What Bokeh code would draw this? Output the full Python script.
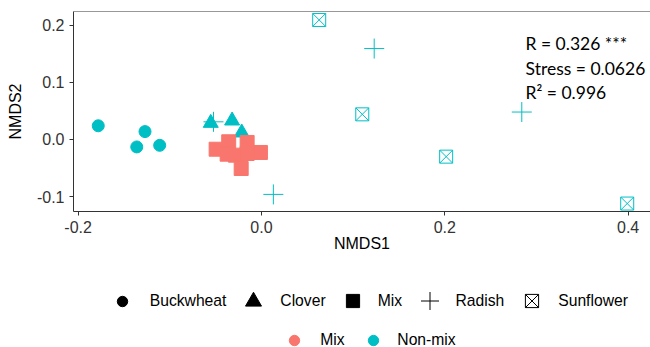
import numpy as np
from bokeh.plotting import figure
from bokeh.layouts import column
from bokeh.models import Range1d, FixedTicker, PrintfTickFormatter, Span, Label, Legend, LegendItem
from bokeh.embed import file_html
from bokeh.resources import INLINE

# ---------------- data ----------------
buck_x = [-0.178, -0.127, -0.136, -0.111]
buck_y = [0.024, 0.0138, -0.013, -0.0102]
clover_x = [-0.0553, -0.032, -0.0215]
clover_y = [0.0288, 0.0329, 0.012]
radish_x = [0.123, 0.284, 0.013, -0.0523]
radish_y = [0.159, 0.048, -0.096, 0.0309]
sunflower_x = [0.063, 0.110, 0.2015, 0.399]
sunflower_y = [0.209, 0.044, -0.030, -0.112]
mix_x = [-0.0494, -0.0357, -0.0156, -0.0011, -0.0284, -0.0156, -0.0221, -0.0374]
mix_y = [-0.017, -0.004, -0.0052, -0.0227, -0.0274, -0.0245, -0.0507, -0.0257]

x_ticks = [-0.2, 0.0, 0.2, 0.4]
y_ticks = [-0.1, 0.0, 0.1, 0.2]
stats_lines = ["R = 0.326 ***", "Stress = 0.0626", "R\u00b2 = 0.996"]
shape_labels = ["Buckwheat", "Clover", "Mix", "Radish", "Sunflower"]
group_labels = ["Mix", "Non-mix"]

TEAL = "#00BFC4"
SALMON = "#F8766D"
DARK = "#333333"

W = 650
H1 = 258
H2 = 347 - H1

# ---------------- main figure ----------------
FRAME_L = 73
FRAME_T = 11
FRAME_B = 211
p = figure(width=W, height=H1, output_backend="svg", toolbar_location=None,
           x_range=Range1d(-0.2050, 0.4244), y_range=Range1d(-0.1259, 0.2238),
           min_border_left=FRAME_L, min_border_right=0, min_border_top=FRAME_T,
           min_border_bottom=H1 - FRAME_B,
           x_axis_label="NMDS1", y_axis_label="NMDS2")
p.outline_line_color = None
p.grid.visible = False
p.background_fill_color = "white"
p.border_fill_color = "white"

for ax in (p.xaxis[0], p.yaxis[0]):
    ax.axis_line_color = DARK
    ax.axis_line_width = 1
    ax.major_tick_line_color = DARK
    ax.major_tick_out = 4
    ax.major_tick_in = 0
    ax.minor_tick_line_color = None
    ax.major_label_text_font = "Liberation Sans"
    ax.major_label_text_font_size = "16px"
    ax.major_label_text_color = DARK
    ax.axis_label_text_font = "Liberation Sans"
    ax.axis_label_text_font_size = "16px"
    ax.axis_label_text_font_style = "normal"
    ax.axis_label_text_color = "black"
    ax.formatter = PrintfTickFormatter(format="%.1f")

p.xaxis[0].ticker = FixedTicker(ticks=x_ticks)
p.yaxis[0].ticker = FixedTicker(ticks=y_ticks)
p.xaxis[0].major_label_standoff = 5
p.xaxis[0].axis_label_standoff = -1
p.yaxis[0].major_label_standoff = 5
p.yaxis[0].axis_label_standoff = 10

p.add_layout(Span(location=p.y_range.end, dimension="width", line_color=DARK, line_width=1))

# ---------------- points ----------------
p.scatter(buck_x, buck_y, marker="circle", size=12, fill_color=TEAL, line_color=TEAL)
p.scatter(clover_x, clover_y, marker="triangle", size=15, fill_color=TEAL, line_color=TEAL)
p.scatter(radish_x, radish_y, marker="cross", size=20, line_color=TEAL, line_width=1)
p.scatter(sunflower_x, sunflower_y, marker="square_x", size=13, fill_color=None,
          line_color=TEAL, line_width=1)
p.scatter(mix_x, mix_y, marker="square", size=14, fill_color=SALMON, line_color=SALMON)

# ---------------- stats text ----------------
stat_y = [0.1673, 0.1236, 0.0827]
for txt, yy in zip(stats_lines, stat_y):
    p.add_layout(Label(x=0.2881, y=yy, text=txt, text_baseline="middle", text_align="left",
                       text_font="Lato", text_font_size="17.5px", text_color="black"))

# ---------------- legend figure ----------------
q = figure(width=W, height=H2, output_backend="svg", toolbar_location=None,
           x_range=Range1d(0, 1), y_range=Range1d(0, 1),
           x_axis_type=None, y_axis_type=None,
           min_border_left=0, min_border_right=0, min_border_top=0, min_border_bottom=0)
q.outline_line_color = None
q.grid.visible = False
q.background_fill_color = "white"
q.border_fill_color = "white"

nan = np.array([np.nan])
k_circle = q.scatter(nan, nan, marker="circle", fill_color="black", line_color="black")
k_tri = q.scatter(nan, nan, marker="triangle", fill_color="black", line_color="black")
k_sq = q.scatter(nan, nan, marker="square", fill_color="black", line_color="black")
k_cross = q.scatter(nan, nan, marker="cross", line_color="black", line_width=1)
k_sqx = q.scatter(nan, nan, marker="square_x", fill_color=None, line_color="black", line_width=1)
k_mix = q.scatter(nan, nan, marker="circle", fill_color=SALMON, line_color=SALMON)
k_non = q.scatter(nan, nan, marker="circle", fill_color=TEAL, line_color=TEAL)

# the column layout aligns this frame with the main frame (left edge at FRAME_L)
def add_key(renderer, label, gx, gy, G, text_x):
    # gx, gy: glyph centre in page pixels; G: glyph box (marker size = 0.4 * G)
    gy_local = gy - H1
    leg = Legend(items=[LegendItem(label=label, renderers=[renderer])],
                 location=(gx - G / 2 - FRAME_L, H2 - (gy_local + G / 2)),
                 orientation="horizontal", glyph_width=G, glyph_height=G,
                 label_standoff=int(round(text_x - (gx + G / 2))),
                 padding=0, margin=0, spacing=0,
                 border_line_alpha=0, background_fill_alpha=0,
                 label_text_font="Liberation Sans", label_text_font_size="15.7px",
                 label_text_color="black", label_text_baseline="middle")
    q.add_layout(leg, "center")


row1 = 300.7
row2 = 340.0
add_key(k_circle, shape_labels[0], 121.7, row1, 26, 149.3)
add_key(k_tri, shape_labels[1], 253.3, row1, 40, 280.0)
add_key(k_sq, shape_labels[2], 352.3, row1, 33, 378.0)
add_key(k_cross, shape_labels[3], 429.0, row1, 45, 455.0)
add_key(k_sqx, shape_labels[4], 531.7, row1, 33, 558.0)
add_key(k_mix, group_labels[0], 294.3, row2, 26, 320.7)
add_key(k_non, group_labels[1], 373.3, row2, 26, 397.6)

layout = column(p, q, spacing=0)
open("out.html", "w").write(file_html(layout, INLINE))
